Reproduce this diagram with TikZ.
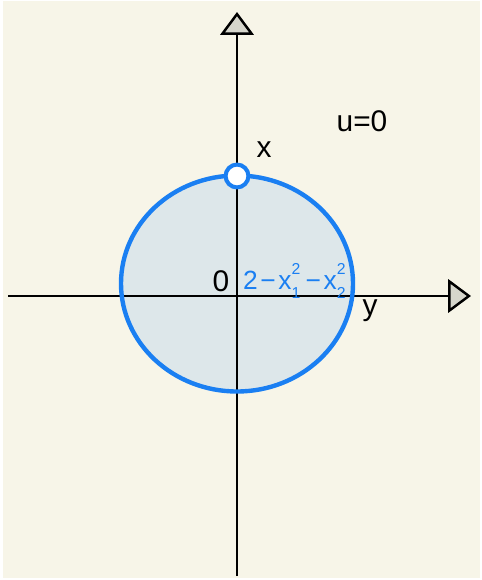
\documentclass[tikz,border=0pt]{standalone}
\usepackage{fontspec}
\setmainfont{Liberation Sans}
\usepackage{xcolor}
\usetikzlibrary{positioning, arrows.meta}

\definecolor{paper}{HTML}{F7F5E8}
\definecolor{ringblue}{HTML}{1A7FF2}
\definecolor{diskfill}{HTML}{DDE7EA}
\definecolor{tipfill}{HTML}{D6D6CC}

\newcommand{\xsq}[1]{x\rlap{\raisebox{0.55em}{\fontsize{9}{9}\selectfont 2}}\raisebox{-0.35em}{\fontsize{9}{9}\selectfont #1}}

\begin{document}
\begin{tikzpicture}[
  x=0.02cm, y=-0.02cm,
  every node/.style={font=\fontsize{17}{20}\selectfont, inner sep=1pt},
  axis/.style={line width=1.5pt, black,
               -{Triangle[length=13pt, width=19pt, fill=tipfill, line width=1.4pt]}},
  ring/.style={draw=ringblue, line width=2.5pt},
  mark point/.style={circle, draw=ringblue, fill=white, line width=2.3pt,
                     minimum size=13pt, inner sep=0pt},
]
\useasboundingbox (0,0) rectangle (482,580);
\fill[paper] (3,1) rectangle (480,578);

% region
\coordinate (centre) at (237,283.5);
\fill[diskfill] (centre) ellipse [x radius=116, y radius=108];

% axes
\coordinate (origin) at (237,296);
\coordinate (xfoot) at (237,576);
\coordinate (xtip) at (237,12);
\coordinate (yfoot) at (8,296);
\coordinate (ytip) at (471,296);
\draw[axis] (xfoot) -- (xtip);
\draw[axis] (yfoot) -- (ytip);

% boundary
\draw[ring] (centre) ellipse [x radius=116, y radius=108];
\node[mark point] (top) at (237,176) {};

% labels
\node (xlabel) at (264,150) {x};
\node (ylabel) at (370,311) {y};
\node (zero) at (221,281) {0};
\node (ucond) at (362,121) {u=0};
\node[ringblue, font=\fontsize{15}{18}\selectfont, anchor=west] (height) at (241,281)
  {2\hspace{1.5pt}−\hspace{1.5pt}\xsq{1}\hspace{3pt}−\hspace{1.5pt}\xsq{2}};
\end{tikzpicture}
\end{document}
